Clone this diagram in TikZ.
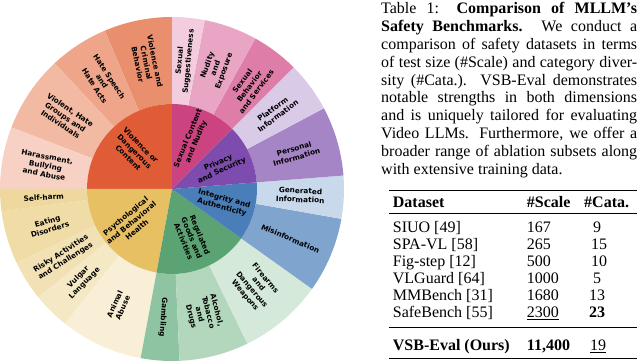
\documentclass[tikz,border=0pt]{standalone}
\usepackage{fontspec}
\setmainfont{Liberation Serif}
\newfontfamily\chartfont{DejaVu Sans}

\definecolor{vio}{HTML}{E05C37}
\definecolor{vio1}{HTML}{E98F6E}
\definecolor{vio2}{HTML}{EEA589}
\definecolor{vio3}{HTML}{F2BAA3}
\definecolor{vio4}{HTML}{F7D1C4}
\definecolor{sex}{HTML}{CB4380}
\definecolor{sex1}{HTML}{DE7EA8}
\definecolor{sex2}{HTML}{E9A6C4}
\definecolor{sex3}{HTML}{F3CDDE}
\definecolor{prv}{HTML}{7D4CAE}
\definecolor{prv1}{HTML}{A585C6}
\definecolor{prv2}{HTML}{D9CAE7}
\definecolor{int}{HTML}{4A7EB8}
\definecolor{int1}{HTML}{7FA5CF}
\definecolor{int2}{HTML}{C8D9EC}
\definecolor{reg}{HTML}{5BA373}
\definecolor{reg1}{HTML}{8EC4A1}
\definecolor{reg2}{HTML}{B2D7BD}
\definecolor{reg3}{HTML}{D4E9DA}
\definecolor{psy}{HTML}{E7C063}
\definecolor{psy1}{HTML}{EED89D}
\definecolor{psy2}{HTML}{F0DCA7}
\definecolor{psy3}{HTML}{F2E1B4}
\definecolor{psy4}{HTML}{F5E8C5}
\definecolor{psy5}{HTML}{F8EFD6}

\newcommand{\ringseg}[5]{\fill[#5] (#1:#3pt) arc[start angle=#1, end angle=#2, radius=#3pt]
   -- (#2:#4pt) arc[start angle=#2, end angle=#1, radius=#4pt] -- cycle;}

\begin{document}
\begin{tikzpicture}[x=1pt,y=1pt]
   \tikzstyle{lbl}=[font=\chartfont\bfseries\fontsize{7.3}{8.8}\selectfont,align=center,inner sep=0pt]
   \tikzstyle{txt}=[font=\fontsize{16}{17.9}\selectfont,inner sep=0pt]
   \tikzstyle{cell}=[txt,anchor=base west]
   \tikzstyle{toprule}=[line width=1.2pt]
   \tikzstyle{midrule}=[line width=0.6pt]

   \useasboundingbox (0,0) rectangle (640,361);

   \begin{scope}[shift={(172,172)}]
      \foreach \a/\b/\col/\rot/\txt [count=\i] in {
         90/113/vio1/-78.5/{Violence and\\Criminal\\Behavior},
         113/133/vio2/-57/{Hate Speech\\and\\Hate Acts},
         133/159/vio3/-34/{Violent, Hate\\Groups and\\Individuals},
         159/180/vio4/-10.5/{Harassment,\\Bullying\\and Abuse},
         180/187.5/psy1/3.75/{Self-harm},
         187.5/205.5/psy2/16.5/{Eating\\Disorders},
         205.5/219/psy3/32.25/{Risky Activities\\and Challenges},
         219/231.5/psy4/45.25/{Vulgar\\Language},
         231.5/259.5/psy5/65.5/{Animal\\Abuse},
         259.5/272.5/reg1/-94/{Gambling},
         272.5/296/reg2/-75.75/{Alcohol,\\Tobacco\\and\\Drugs},
         296/324.5/reg3/-49.75/{Firearms\\and\\Dangerous\\Weapons},
         324.5/350/int1/-22.75/{Misinformation},
         350/364.5/int2/-2.75/{Generated\\Information},
         4.5/28/prv1/16.25/{Personal\\Information},
         28/45/prv2/36.5/{Platform\\Information},
         45/61/sex1/53/{Sexual\\Behavior\\and Services},
         61/79/sex2/70/{Nudity\\and\\Exposure},
         79/90/sex3/84.5/{Sexual\\Suggestiveness}} {
         \ringseg{\a}{\b}{85}{172}{\col}
         \pgfmathsetmacro\mid{(\a+\b)/2}
         \node (out\i) [lbl,rotate=\rot] at (\mid:128.5pt) {\txt};
      }
      \foreach \a/\b/\col/\rot/\txt [count=\i] in {
         90/180/vio/-45/{Violence or\\Dangerous\\Content},
         180/259.5/psy/39.75/{Psychological\\and Behavioral\\Health},
         259.5/324.5/reg/-68/{Regulated\\Goods and\\Activities},
         324.5/364.5/int/-15.5/{Integrity and\\Authenticity},
         4.5/45/prv/24.75/{Privacy\\and Security},
         45/90/sex/67.5/{Sexual Content\\and Nudity}} {
         \fill[\col] (0,0) -- (\a:85pt) arc[start angle=\a, end angle=\b, radius=85pt] -- cycle;
         \pgfmathsetmacro\mid{(\a+\b)/2}
         \node (in\i) [lbl,rotate=\rot] at (\mid:53pt) {\txt};
      }
   \end{scope}

   \node (cap) [txt,anchor=north west,text width=256pt,align=justify] at (381,359) {
      Table 1: \textbf{Comparison of MLLM’s}\linebreak
      \textbf{Safety Benchmarks.} We conduct a\linebreak
      comparison of safety datasets in terms\linebreak
      of test size (\#Scale) and category diver-\linebreak
      sity (\#Cata.). VSB-Eval demonstrates\linebreak
      notable strengths in both dimensions\linebreak
      and is uniquely tailored for evaluating\linebreak
      Video LLMs. Furthermore, we offer a\linebreak
      broader range of ablation subsets along\linebreak
      with extensive training data.};

   \node (hset) [cell] at (392.7,153) {\textbf{Dataset}};
   \node (hscale) [cell] at (526.7,153) {\textbf{\#Scale}};
   \node (hcata) [cell] at (584,153) {\textbf{\#Cata.}};
   \foreach \y/\d/\s/\x/\c [count=\i] in {
      128/{SIUO [49]}/167/593/9,
      111/{SPA-VL [58]}/265/591/15,
      94/{Fig-step [12]}/500/591/10,
      77/{VLGuard [64]}/1000/593/5,
      60/{MMBench [31]}/1680/589/13,
      43/{SafeBench [55]}/{\underline{2300}}/589/{\textbf{23}},
      10/{\textbf{VSB-Eval (Ours)}}/{\textbf{11,400}}/590/{\underline{19}}} {
      \node (set\i) [cell] at (392.7,\y) {\d};
      \node (scale\i) [cell] at (526.7,\y) {\s};
      \node (cata\i) [cell] at (\x,\y) {\c};
   }

   \draw[toprule] (389,170.8) -- (636.7,170.8);
   \draw[midrule] (389,147.5) -- (636.7,147.5);
   \draw[midrule] (389,34) -- (636.7,34);
   \draw[toprule] (389,2.5) -- (636.7,2.5);
\end{tikzpicture}
\end{document}
